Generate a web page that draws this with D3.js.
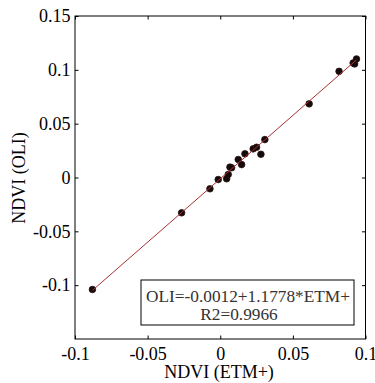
<!DOCTYPE html>
<html><head><meta charset="utf-8">
<script src="https://cdn.jsdelivr.net/npm/d3@7"></script>
<style>body{margin:0;background:#fff}svg{display:block}</style>
</head><body><svg id="c" width="375" height="383"></svg>
<script>
const etm = [-0.088, -0.0266, -0.0071, -0.0014, 0.0044, 0.0055, 0.0067, 0.0078, 0.0124, 0.0147, 0.017, 0.0227, 0.025, 0.028, 0.0307, 0.0612, 0.0818, 0.0915, 0.0938, 0.0925];
const oli = [-0.104, -0.0328, -0.0105, -0.0019, -0.0012, 0.0028, 0.0096, 0.009, 0.0167, 0.012, 0.022, 0.0266, 0.0281, 0.0216, 0.0352, 0.0684, 0.0986, 0.1064, 0.1101, 0.1055];
const xTicks = [-0.1, -0.05, 0, 0.05, 0.1];
const yTicks = [-0.1, -0.05, 0, 0.05, 0.1, 0.15];
const fitIntercept = -0.0012, fitSlope = 1.1778, r2 = 0.9966;
const xLabel = "NDVI (ETM+)", yLabel = "NDVI (OLI)";

const svg = d3.select("#c");
const font = "Liberation Serif";
const L = 75, R = 365.5, T = 16, B = 339;
const x = d3.scaleLinear().domain([-0.1, 0.1]).range([L, R]);
const y = d3.scaleLinear().domain([-0.15, 0.15]).range([B, T]);
const fmt = d => d === 0 ? "0" : String(d);

// axes with inward ticks
const gx = svg.append("g").attr("transform", `translate(0,${B})`)
  .call(d3.axisBottom(x).tickValues(xTicks).tickFormat(fmt).tickSizeInner(-3.5).tickSizeOuter(0).tickPadding(8));
const gx2 = svg.append("g").attr("transform", `translate(0,${T})`)
  .call(d3.axisTop(x).tickValues(xTicks).tickFormat("").tickSizeInner(-3.5).tickSizeOuter(0));
const gy = svg.append("g").attr("transform", `translate(${L},0)`)
  .call(d3.axisLeft(y).tickValues(yTicks).tickFormat(fmt).tickSizeInner(-3.5).tickSizeOuter(0).tickPadding(4.5));
const gy2 = svg.append("g").attr("transform", `translate(${R},0)`)
  .call(d3.axisRight(y).tickValues(yTicks).tickFormat("").tickSizeInner(-3.5).tickSizeOuter(0));
[gx, gx2, gy, gy2].forEach(g => {
  g.select(".domain").remove();
  g.selectAll("line").attr("stroke", "#000");
  g.selectAll("text").attr("font-family", font).attr("font-size", 18).attr("fill", "#000");
});
svg.append("rect").attr("x", L).attr("y", T).attr("width", R - L).attr("height", B - T)
  .attr("fill", "none").attr("stroke", "#000").attr("stroke-width", 1);

// points
const pts = etm.map((v, i) => [v, oli[i]]);
svg.append("g").selectAll("circle").data(pts).join("circle")
  .attr("cx", d => x(d[0])).attr("cy", d => y(d[1])).attr("r", 3.3)
  .attr("fill", "#150a0a").attr("stroke", "#2a1010").attr("stroke-width", 0.8);

// fit line
const ex = d3.extent(etm);
svg.append("line")
  .attr("x1", x(ex[0])).attr("y1", y(fitIntercept + fitSlope * ex[0]))
  .attr("x2", x(ex[1])).attr("y2", y(fitIntercept + fitSlope * ex[1]))
  .attr("stroke", "#a83030").attr("stroke-width", 1);

// equation box
svg.append("rect").attr("x", 141).attr("y", 280).attr("width", 213).attr("height", 45)
  .attr("fill", "#fff").attr("stroke", "#000").attr("stroke-width", 1);
svg.append("text").attr("x", 248).attr("y", 302).attr("text-anchor", "middle")
  .attr("font-family", font).attr("font-size", 17.3).attr("fill", "#333")
  .text(`OLI=${fitIntercept.toFixed(4)}+${fitSlope.toFixed(4)}*ETM+`);
svg.append("text").attr("x", 239).attr("y", 320).attr("text-anchor", "middle")
  .attr("font-family", font).attr("font-size", 17.3).attr("fill", "#333")
  .text(`R2=${r2.toFixed(4)}`);

// axis labels
svg.append("text").attr("x", 219).attr("y", 378).attr("text-anchor", "middle")
  .attr("font-family", font).attr("font-size", 18).text(xLabel);
svg.append("text").attr("transform", "translate(25,178) rotate(-90)").attr("text-anchor", "middle")
  .attr("font-family", font).attr("font-size", 18).text(yLabel);
</script></body></html>
